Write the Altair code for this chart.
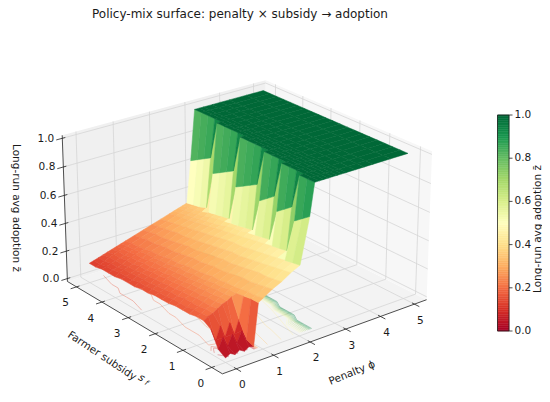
import numpy as np
import altair as alt

# ---------------- data ----------------
phi_vals = [0.0, 0.125, 0.25, 0.375, 0.5, 0.625, 0.75, 0.875, 1.0, 1.25, 1.5, 1.75, 2.0,
            2.25, 2.375, 2.5, 2.625, 2.75, 2.875, 3.0, 3.125, 3.25, 3.5, 3.75, 4.0, 4.5, 5.0]
s_vals = [0.0, 0.25, 0.5, 0.75, 1.0, 1.25, 1.5, 1.75, 2.0, 2.25, 2.5,
          2.75, 3.0, 3.25, 3.5, 3.75, 4.0, 4.25, 4.5, 4.75, 5.0]

# z_rows[j][i] = long-run average adoption at subsidy s_vals[j], penalty phi_vals[i]
z_rows = [
    [0.01, 0.03, 0.01, 0.03, 0.01, 0.03, 0.02, 0.31, 0.33, 0.37, 0.40, 0.44, 0.47, 0.78,
     1, 1, 1, 1, 1, 1, 1, 1, 1, 1, 1, 1, 1],
    [0.04, 0.11, 0.04, 0.11, 0.04, 0.11, 0.04, 0.31, 0.32, 0.36, 0.39, 0.43, 0.46, 0.74,
     1, 1, 1, 1, 1, 1, 1, 1, 1, 1, 1, 1, 1],
    [0.15, 0.06, 0.15, 0.06, 0.15, 0.06, 0.15, 0.30, 0.32, 0.35, 0.38, 0.42, 0.45, 0.70,
     1, 1, 1, 1, 1, 1, 1, 1, 1, 1, 1, 1, 1],
    [0.18, 0.20, 0.21, 0.23, 0.25, 0.26, 0.28, 0.29, 0.31, 0.34, 0.38, 0.41, 0.44, 0.47, 0.76,
     1, 1, 1, 1, 1, 1, 1, 1, 1, 1, 1, 1],
    [0.18, 0.19, 0.21, 0.22, 0.24, 0.26, 0.27, 0.29, 0.30, 0.34, 0.37, 0.40, 0.43, 0.46, 0.72,
     1, 1, 1, 1, 1, 1, 1, 1, 1, 1, 1, 1],
    [0.17, 0.19, 0.20, 0.22, 0.24, 0.25, 0.27, 0.28, 0.30, 0.33, 0.36, 0.39, 0.42, 0.45, 0.68,
     1, 1, 1, 1, 1, 1, 1, 1, 1, 1, 1, 1],
    [0.17, 0.18, 0.20, 0.22, 0.23, 0.25, 0.26, 0.28, 0.29, 0.32, 0.35, 0.38, 0.41, 0.44, 0.46, 0.75,
     1, 1, 1, 1, 1, 1, 1, 1, 1, 1, 1],
    [0.17, 0.18, 0.20, 0.21, 0.23, 0.24, 0.26, 0.27, 0.29, 0.31, 0.34, 0.37, 0.40, 0.43, 0.45, 0.71,
     1, 1, 1, 1, 1, 1, 1, 1, 1, 1, 1],
    [0.16, 0.18, 0.19, 0.21, 0.22, 0.24, 0.25, 0.26, 0.28, 0.31, 0.34, 0.37, 0.39, 0.42, 0.44, 0.67,
     1, 1, 1, 1, 1, 1, 1, 1, 1, 1, 1],
    [0.16, 0.17, 0.19, 0.20, 0.22, 0.23, 0.24, 0.26, 0.27, 0.30, 0.33, 0.36, 0.39, 0.41, 0.43, 0.44, 0.75,
     1, 1, 1, 1, 1, 1, 1, 1, 1, 1],
    [0.16, 0.17, 0.18, 0.20, 0.21, 0.22, 0.24, 0.25, 0.27, 0.29, 0.32, 0.35, 0.38, 0.40, 0.42, 0.43, 0.72,
     1, 1, 1, 1, 1, 1, 1, 1, 1, 1],
    [0.15, 0.17, 0.18, 0.19, 0.21, 0.22, 0.23, 0.25, 0.26, 0.29, 0.31, 0.34, 0.37, 0.39, 0.41, 0.42, 0.69,
     1, 1, 1, 1, 1, 1, 1, 1, 1, 1],
    [0.15, 0.16, 0.17, 0.19, 0.20, 0.21, 0.23, 0.24, 0.25, 0.28, 0.30, 0.33, 0.36, 0.38, 0.40, 0.41, 0.66,
     1, 1, 1, 1, 1, 1, 1, 1, 1, 1],
    [0.14, 0.16, 0.17, 0.18, 0.20, 0.21, 0.22, 0.23, 0.25, 0.27, 0.30, 0.32, 0.35, 0.37, 0.38, 0.40, 0.41, 0.74,
     1, 1, 1, 1, 1, 1, 1, 1, 1],
    [0.14, 0.15, 0.17, 0.18, 0.19, 0.20, 0.22, 0.23, 0.24, 0.26, 0.29, 0.31, 0.34, 0.36, 0.37, 0.39, 0.40, 0.71,
     1, 1, 1, 1, 1, 1, 1, 1, 1],
    [0.14, 0.15, 0.16, 0.17, 0.19, 0.20, 0.21, 0.22, 0.23, 0.26, 0.28, 0.30, 0.33, 0.35, 0.36, 0.38, 0.39, 0.68,
     1, 1, 1, 1, 1, 1, 1, 1, 1],
    [0.13, 0.15, 0.16, 0.17, 0.18, 0.19, 0.20, 0.22, 0.23, 0.25, 0.27, 0.30, 0.32, 0.34, 0.35, 0.36, 0.38, 0.65,
     1, 1, 1, 1, 1, 1, 1, 1, 1],
    [0.13, 0.14, 0.15, 0.16, 0.18, 0.19, 0.20, 0.21, 0.22, 0.24, 0.26, 0.29, 0.31, 0.33, 0.34, 0.35, 0.36, 0.38, 0.73,
     1, 1, 1, 1, 1, 1, 1, 1],
    [0.13, 0.14, 0.15, 0.16, 0.17, 0.18, 0.19, 0.20, 0.21, 0.24, 0.26, 0.28, 0.30, 0.32, 0.33, 0.34, 0.35, 0.36, 0.70,
     1, 1, 1, 1, 1, 1, 1, 1],
    [0.12, 0.13, 0.14, 0.16, 0.17, 0.18, 0.19, 0.20, 0.21, 0.23, 0.25, 0.27, 0.29, 0.31, 0.32, 0.33, 0.34, 0.35, 0.67,
     1, 1, 1, 1, 1, 1, 1, 1],
    [0.12, 0.13, 0.14, 0.15, 0.16, 0.17, 0.18, 0.19, 0.20, 0.22, 0.24, 0.26, 0.28, 0.30, 0.31, 0.32, 0.33, 0.34, 0.64,
     1, 1, 1, 1, 1, 1, 1, 1],
]

phi_ticks = [0, 1, 2, 3, 4, 5]
s_ticks = [0, 1, 2, 3, 4, 5]
z_ticks = [0.0, 0.2, 0.4, 0.6, 0.8, 1.0]
cbar_ticks = [0.0, 0.2, 0.4, 0.6, 0.8, 1.0]
contour_levels = [0.05, 0.1, 0.15, 0.2, 0.25, 0.3, 0.35, 0.4, 0.45, 0.5,
                  0.55, 0.6, 0.65, 0.7, 0.75, 0.8, 0.85, 0.9, 0.95]
rdylgn_stops = [0.0, 0.1, 0.2, 0.3, 0.4, 0.5, 0.6, 0.7, 0.8, 0.9, 1.0]
rdylgn_colors = ["#a50026", "#d73027", "#f46d43", "#fdae61", "#fee08b", "#ffffbf",
                 "#d9ef8b", "#a6d96a", "#66bd63", "#1a9850", "#006837"]

# ---------------- 3D view (matplotlib-like perspective) ----------------
XL = (-0.365, 5.365)
YL = (-0.365, 5.365)
ZL = (-0.021, 1.021)
DIST = 10.0
LO = np.array([XL[0], YL[0], ZL[0]])
HI = np.array([XL[1], YL[1], ZL[1]])


def make_box(h):
    b = np.array([4.0, 4.0, h])
    return b * 1.8294640721620434 / np.linalg.norm(b)


def basis(az, el, box):
    a, e = np.deg2rad(az), np.deg2rad(el)
    w = np.array([np.cos(e) * np.cos(a), np.cos(e) * np.sin(a), np.sin(e)])
    eye = box / 2 + DIST * w
    u = np.cross([0.0, 0.0, 1.0], w)
    u /= np.linalg.norm(u)
    v = np.cross(w, u)
    return eye, u, v, w, box


def proj2(P, B):
    eye, u, v, w, box = B
    Q = (np.atleast_2d(np.asarray(P, float)) - LO) / (HI - LO) * box - eye
    d = -(Q @ w)
    return (Q @ u) / d, (Q @ v) / d, d


# known box corners / tick positions -> page pixels (view coords = page - 8)
anchor3 = np.array([
    [XL[0], YL[0], ZL[0]], [XL[1], YL[0], ZL[0]], [XL[0], YL[1], ZL[0]],
    [XL[0], YL[1], ZL[1]], [XL[1], YL[1], ZL[1]], [XL[1], YL[0], ZL[1]],
    [0, YL[0], ZL[0]], [5, YL[0], ZL[0]], [XL[0], 0, ZL[0]], [XL[0], 5, ZL[0]],
    [XL[0], YL[1], 0.0], [XL[0], YL[1], 1.0]])
anchor2 = np.array([
    [224, 375], [426, 300], [66, 279], [63, 132], [265, 83], [431, 150],
    [238, 370], [415, 305], [210, 368], [77, 286], [67, 279], [63, 139]], float) - 8.0


def fit(az, el, h):
    B = basis(az, el, make_box(h))
    xs, ys, _ = proj2(anchor3, B)
    n = len(xs)
    A = np.zeros((2 * n, 3))
    r = np.zeros(2 * n)
    A[0::2, 0] = xs
    A[0::2, 1] = 1
    r[0::2] = anchor2[:, 0]
    A[1::2, 0] = -ys
    A[1::2, 2] = 1
    r[1::2] = anchor2[:, 1]
    sol = np.linalg.lstsq(A, r, rcond=None)[0]
    return float(np.sum((A @ sol - r) ** 2)), sol


best = None
for az in np.arange(-145.0, -109.9, 1.0):
    for el in np.arange(15.0, 40.1, 1.0):
        for h in np.arange(2.0, 3.41, 0.1):
            err, sol = fit(az, el, h)
            if best is None or err < best[0]:
                best = (err, az, el, h, sol)
_, az_b, el_b, h_b, _ = best
for az in np.arange(az_b - 1, az_b + 1.01, 0.25):
    for el in np.arange(el_b - 1, el_b + 1.01, 0.25):
        for h in np.arange(h_b - 0.1, h_b + 0.101, 0.025):
            err, sol = fit(az, el, h)
            if err < best[0]:
                best = (err, az, el, h, sol)
_, AZ, EL, HB, SOL = best
K, CX, CY = SOL
VB = basis(AZ, EL, make_box(HB))


def scr(P):
    xs, ys, d = proj2(P, VB)
    return np.c_[CX + K * xs, CY - K * ys], d


def coords_of(P3):
    pts, d = scr(P3)
    return [[round(float(x), 2), round(float(y), 2)] for x, y in pts], float(d.mean())


def polygon(P3, props):
    c, d = coords_of(P3)
    c.append(c[0])
    return {"type": "Feature", "geometry": {"type": "Polygon", "coordinates": [c]},
            "properties": props}, d


def line(P3, props=None):
    c, _ = coords_of(P3)
    return {"type": "Feature", "geometry": {"type": "LineString", "coordinates": c},
            "properties": props or {}}


x0, x1 = XL
y0, y1 = YL
z0, z1 = ZL

panes = [
    polygon([(x0, y0, z0), (x1, y0, z0), (x1, y1, z0), (x0, y1, z0)], {"c": "#f3f3f3"})[0],
    polygon([(x0, y1, z0), (x1, y1, z0), (x1, y1, z1), (x0, y1, z1)], {"c": "#f0f0f0"})[0],
    polygon([(x1, y0, z0), (x1, y1, z0), (x1, y1, z1), (x1, y0, z1)], {"c": "#f7f7f7"})[0],
]

grid = []
for t in phi_ticks:
    grid.append(line([(t, y0, z0), (t, y1, z0)]))
    grid.append(line([(t, y1, z0), (t, y1, z1)]))
for t in s_ticks:
    grid.append(line([(x0, t, z0), (x1, t, z0)]))
    grid.append(line([(x1, t, z0), (x1, t, z1)]))
for t in z_ticks:
    grid.append(line([(x0, y1, t), (x1, y1, t)]))
    grid.append(line([(x1, y0, t), (x1, y1, t)]))

axes_f = [line([(x0, y0, z0), (x1, y0, z0)]),
          line([(x0, y0, z0), (x0, y1, z0)]),
          line([(x0, y1, z0), (x0, y1, z1)])]
for t in phi_ticks:
    axes_f.append(line([(t, y0 + 0.08, z0), (t, y0 - 0.16, z0)]))
for t in s_ticks:
    axes_f.append(line([(x0 + 0.08, t, z0), (x0 - 0.16, t, z0)]))
for t in z_ticks:
    axes_f.append(line([(x0 + 0.08, y1, t), (x0 - 0.16, y1, t)]))

Z = np.array(z_rows, float)
P = np.array(phi_vals)
S = np.array(s_vals)

# floor contours (marching squares, drawn at z = 0)
contours = []
for lev in contour_levels:
    segs = []
    for j in range(len(S) - 1):
        for i in range(len(P) - 1):
            cs = [(P[i], S[j], Z[j, i]), (P[i + 1], S[j], Z[j, i + 1]),
                  (P[i + 1], S[j + 1], Z[j + 1, i + 1]), (P[i], S[j + 1], Z[j + 1, i])]
            pts = []
            for k in range(4):
                a, b = cs[k], cs[(k + 1) % 4]
                if (a[2] >= lev) != (b[2] >= lev):
                    t = (lev - a[2]) / (b[2] - a[2])
                    pts.append((a[0] + t * (b[0] - a[0]), a[1] + t * (b[1] - a[1])))
            if len(pts) == 2:
                segs.append(pts)
            elif len(pts) == 4:
                segs.append(pts[:2])
                segs.append(pts[2:])
    ml = []
    for sg in segs:
        c, _ = coords_of([(sg[0][0], sg[0][1], 0.0), (sg[1][0], sg[1][1], 0.0)])
        ml.append(c)
    if ml:
        contours.append({"type": "Feature",
                         "geometry": {"type": "MultiLineString", "coordinates": ml},
                         "properties": {"z": lev}})

# surface quads, painter's order (far first)
quads = []
for j in range(len(S) - 1):
    for i in range(len(P) - 1):
        cs = [(P[i], S[j], Z[j, i]), (P[i + 1], S[j], Z[j, i + 1]),
              (P[i + 1], S[j + 1], Z[j + 1, i + 1]), (P[i], S[j + 1], Z[j + 1, i])]
        zm = float(np.mean([c[2] for c in cs]))
        f, d = polygon(cs, {"z": round(zm, 4)})
        quads.append((d, f))
quads.sort(key=lambda q: -q[0])
surface = [q[1] for q in quads]

# colorbar (view coords)
CBX0, CBX1, CBY0, CBY1 = 489.5, 501.0, 323.0, 107.0
NB = 120
cbar = []
for k in range(NB):
    ya = CBY0 + (CBY1 - CBY0) * k / NB
    yb = CBY0 + (CBY1 - CBY0) * (k + 1) / NB
    ring = [[CBX0, ya], [CBX1, ya], [CBX1, yb], [CBX0, yb], [CBX0, ya]]
    cbar.append({"type": "Feature", "geometry": {"type": "Polygon", "coordinates": [ring]},
                 "properties": {"z": (k + 0.5) / NB}})
cbar_lines = [{"type": "Feature", "geometry": {"type": "LineString", "coordinates":
               [[CBX0, CBY0], [CBX1, CBY0], [CBX1, CBY1], [CBX0, CBY1], [CBX0, CBY0]]},
               "properties": {}}]
cbar_text = []
for t in cbar_ticks:
    yy = CBY0 + (CBY1 - CBY0) * t
    cbar_lines.append({"type": "Feature", "geometry": {"type": "LineString",
                       "coordinates": [[CBX1, yy], [CBX1 + 3.5, yy]]}, "properties": {}})
    cbar_text.append({"lon": CBX1 + 5.5, "lat": yy, "t": f"{t:.1f}"})

phi_lab, s_lab, z_lab = [], [], []
for t in phi_ticks:
    (p,), _ = scr([(t, y0, z0)])
    phi_lab.append({"lon": p[0] + 6, "lat": p[1] + 16.5, "t": str(t)})
for t in s_ticks:
    (p,), _ = scr([(x0, t, z0)])
    s_lab.append({"lon": p[0] - 11, "lat": p[1] + 16.5, "t": str(t)})
for t in z_ticks:
    (p,), _ = scr([(x0, y1, t)])
    z_lab.append({"lon": p[0] - 8, "lat": p[1] + 0.5, "t": f"{t:.1f}"})

cscale = alt.Scale(domain=rdylgn_stops, range=rdylgn_colors, interpolate="rgb")
FONT = "DejaVu Sans"


def geo(values):
    return alt.Chart(alt.Data(values=values))


def texts(rows, **kw):
    return alt.Chart(alt.Data(values=rows)).mark_text(font=FONT, color="#1a1a1a", **kw).encode(
        longitude="lon:Q", latitude="lat:Q", text="t:N")


layers = [
    geo(panes).mark_geoshape(strokeWidth=0).encode(fill=alt.Fill("properties.c:N", scale=None)),
    geo(grid).mark_geoshape(filled=False, stroke="#d6d6d6", strokeWidth=0.8),
    geo(axes_f).mark_geoshape(filled=False, stroke="#222222", strokeWidth=0.8),
    geo(contours).mark_geoshape(filled=False, strokeWidth=0.7, opacity=0.5).encode(
        stroke=alt.Stroke("properties.z:Q", scale=cscale, legend=None)),
    geo(surface).mark_geoshape(strokeWidth=0.5).encode(
        color=alt.Color("properties.z:Q", scale=cscale, legend=None),
        stroke=alt.Stroke("properties.z:Q", scale=cscale, legend=None)),
    geo(cbar).mark_geoshape(strokeWidth=0.5).encode(
        color=alt.Color("properties.z:Q", scale=cscale, legend=None),
        stroke=alt.Stroke("properties.z:Q", scale=cscale, legend=None)),
    geo(cbar_lines).mark_geoshape(filled=False, stroke="#222222", strokeWidth=0.8),
    texts(phi_lab, fontSize=10.5, align="center", baseline="middle"),
    texts(s_lab, fontSize=10.5, align="center", baseline="middle"),
    texts(z_lab, fontSize=10.5, align="right", baseline="middle"),
    texts(cbar_text, fontSize=10.5, align="left", baseline="middle"),
    texts([{"lon": 232, "lat": 5.5, "t": "Policy-mix surface: penalty × subsidy → adoption"}],
          fontSize=12, align="center", baseline="middle"),
    texts([{"lon": 344, "lat": 365, "t": "Penalty  ϕ"}],
          fontSize=10.5, align="center", baseline="middle", angle=338),
    texts([{"lon": 94, "lat": 348, "t": "Farmer subsidy"}],
          fontSize=10.5, align="center", baseline="middle", angle=33.5),
    texts([{"lon": 133.5, "lat": 370, "t": "s"}],
          fontSize=10.5, fontStyle="italic", align="center", baseline="middle", angle=33.5),
    texts([{"lon": 138.5, "lat": 375, "t": "f"}],
          fontSize=7.5, fontStyle="italic", align="center", baseline="middle", angle=33.5),
    texts([{"lon": 7.5, "lat": 200, "t": "Long-run avg adoption  z̄"}],
          fontSize=10.5, align="center", baseline="middle", angle=90),
    texts([{"lon": 530, "lat": 221, "t": "Long-run avg adoption  z̄"}],
          fontSize=10.5, align="center", baseline="middle", angle=270),
]

chart = alt.layer(*layers).project(
    type="identity", scale=1, translate=[0, 0]
).properties(
    width=534, height=386, autosize=alt.AutoSizeParams(type="none"), padding=0,
    background="white"
).configure_view(stroke=None)

chart.save("out.html", embed_options={"renderer": "svg", "actions": False})
